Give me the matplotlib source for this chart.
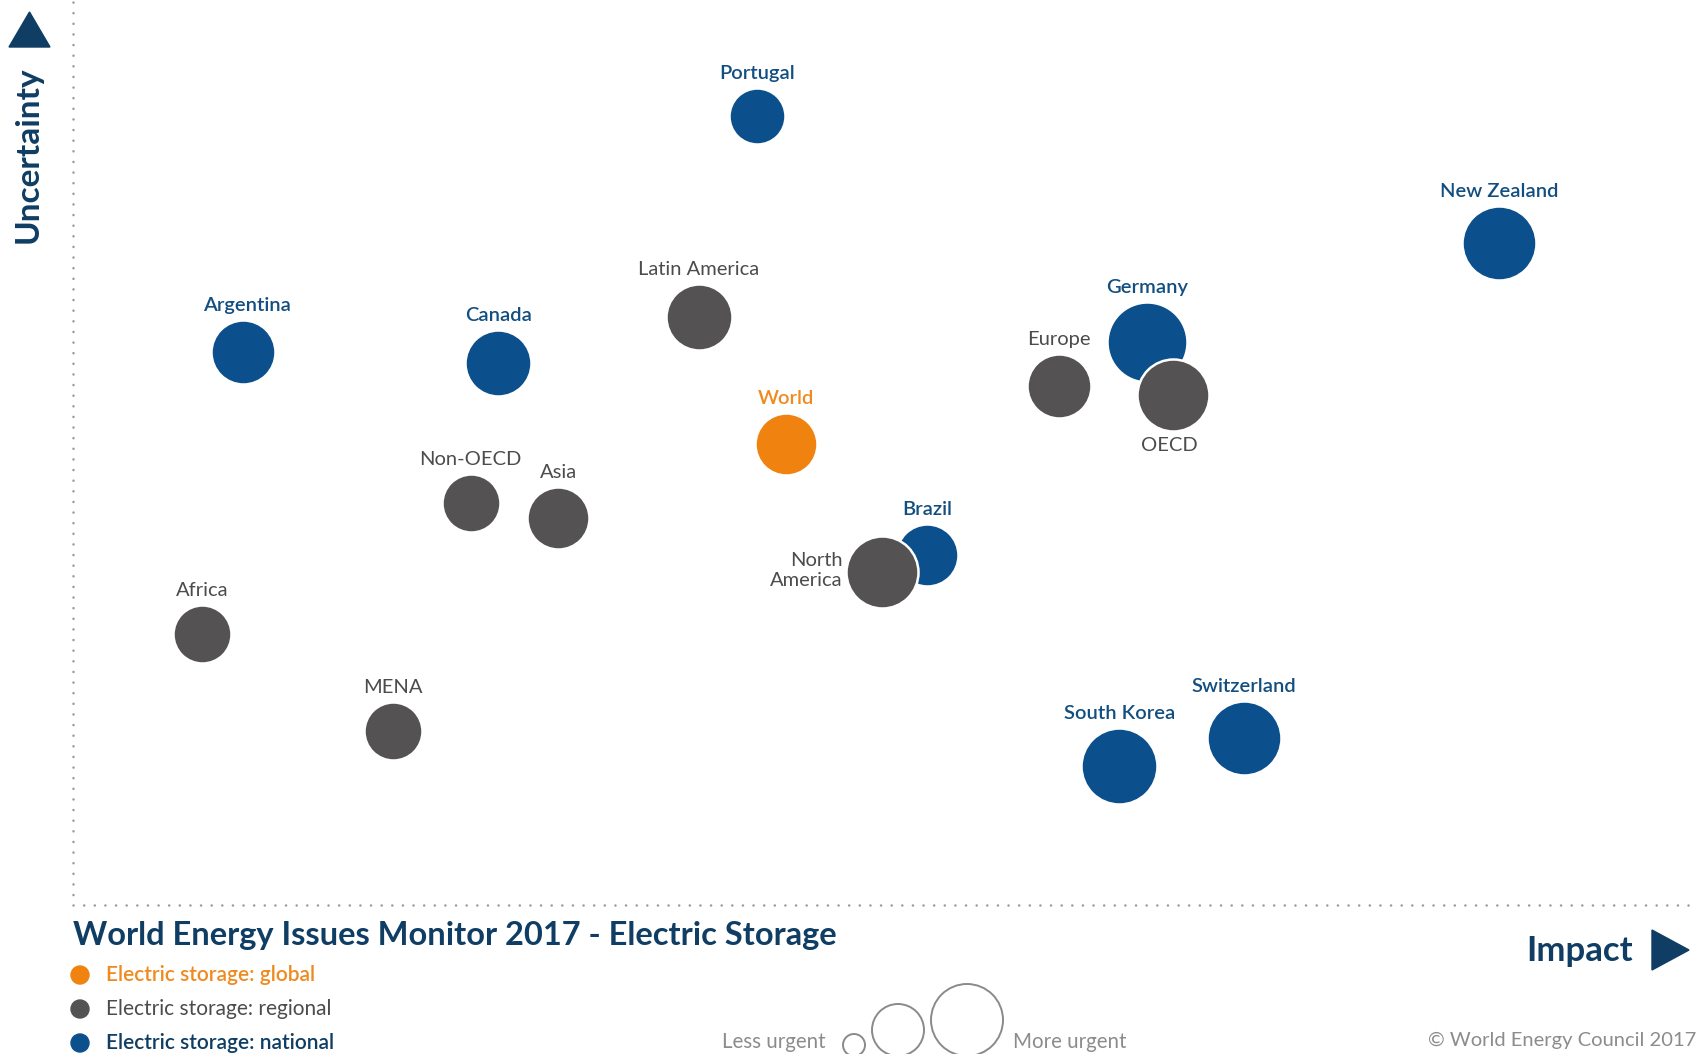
import matplotlib
matplotlib.use("Agg")
import matplotlib.pyplot as plt
from matplotlib.patches import Circle, Polygon
from matplotlib.lines import Line2D

plt.rcParams['font.family'] = ['Lato', 'DejaVu Sans']

# data (impact / uncertainty on a 0-100 scale, urgency = bubble radius)
names = ["Portugal", "New Zealand", "Latin America", "Argentina", "Canada",
         "Germany", "OECD", "Europe", "World", "Non-OECD", "Asia",
         "Brazil", "North America", "Africa", "MENA", "South Korea", "Switzerland"]
impact = [42.3, 88.2, 38.7, 10.5, 26.3, 66.4, 68.0, 61.0, 44.1, 24.6, 30.0,
          52.8, 50.0, 8.0, 19.8, 64.7, 72.4]
uncertainty = [87.2, 73.1, 65.0, 61.1, 59.9, 62.2, 56.4, 57.3, 50.9, 44.4, 42.8,
               38.7, 36.8, 29.9, 19.2, 15.4, 18.5]
urgency = [28, 37, 33, 32, 33, 40, 36, 32, 31, 29, 31, 31, 36, 29, 29, 38, 37]
level = ["national", "national", "regional", "national", "national",
         "national", "regional", "regional", "global", "regional", "regional",
         "national", "regional", "regional", "regional", "national", "national"]

legend_labels = ["Electric storage: global", "Electric storage: regional",
                 "Electric storage: national"]
legend_levels = ["global", "regional", "national"]
size_legend = [11, 26, 36]

colors = {"global": "#f0830f", "regional": "#545253", "national": "#0b4f8c"}
text_colors = {"global": "#ef8a1f", "regional": "#4d4c4c", "national": "#124e80"}
navy = "#0f3d63"
dotgrey = "#9a9a9a"

W, H, DPI = 1704, 1054, 100
fig = plt.figure(figsize=(W / DPI, H / DPI), dpi=DPI)

# decoration layer in pixel coordinates
deco = fig.add_axes([0, 0, 1, 1])
deco.set_xlim(0, W)
deco.set_ylim(H, 0)
deco.axis("off")

# plot area
x0, x1, ytop, ybot = 73, 1690, 0, 905
ax = fig.add_axes([x0 / W, (H - ybot) / H, (x1 - x0) / W, (ybot - ytop) / H])
ax.set_xlim(0, 100)
ax.set_ylim(0, 100)
ax.axis("off")
ax.patch.set_alpha(0)

# dotted axes
dots = dict(color=dotgrey, lw=1.8, linestyle=(0, (0.05, 4.2)), dash_capstyle="round")
deco.add_line(Line2D([x0, x0], [2, ybot], **dots))
deco.add_line(Line2D([x0, x1], [ybot, ybot], **dots))

# arrows
deco.add_patch(Polygon([[9, 47], [50, 47], [29.5, 12]], closed=True, color=navy))
deco.add_patch(Polygon([[1652, 930], [1652, 970], [1689, 950]], closed=True, color=navy))
deco.text(28, 155, "Uncertainty", rotation=90, ha="center", va="center",
          fontsize=24, fontweight="bold", color=navy)
deco.text(1633, 951, "Impact", ha="right", va="center",
          fontsize=25, fontweight="bold", color=navy)

# bubbles
px2pt = 72 / DPI
lab_fs = 14.5
for i, name in enumerate(names):
    r = urgency[i]
    ax.scatter(impact[i], uncertainty[i], s=(2 * r * px2pt) ** 2,
               color=colors[level[i]], edgecolors="white", linewidths=1.8,
               zorder=2 + i)
    tc = text_colors[level[i]]
    if name == "North America":
        ax.annotate("North\nAmerica", (impact[i], uncertainty[i]),
                    xytext=(-(r + 3) * px2pt, 1), textcoords="offset points",
                    ha="right", va="center", fontsize=lab_fs, color=tc,
                    linespacing=1.2, zorder=40)
    elif name == "OECD":
        ax.annotate(name, (impact[i], uncertainty[i]),
                    xytext=(-2, -(r + 6) * px2pt), textcoords="offset points",
                    ha="center", va="top", fontsize=lab_fs, color=tc, zorder=40)
    else:
        dx = 3 if name == "Argentina" else 0
        ax.annotate(name, (impact[i], uncertainty[i]),
                    xytext=(dx, (r + 6) * px2pt), textcoords="offset points",
                    ha="center", va="bottom", fontsize=lab_fs, color=tc,
                    fontweight="semibold" if level[i] != "regional" else "normal",
                    zorder=40)

# title
deco.text(73, 935, "World Energy Issues Monitor 2017 - Electric Storage",
          ha="left", va="center", fontsize=23.5, fontweight="bold", color=navy)

# colour legend
for j, lab in enumerate(legend_labels):
    yy = 975 + j * 34
    deco.add_patch(Circle((80, yy), 9, color=colors[legend_levels[j]]))
    deco.text(106, yy, lab, ha="left", va="center", fontsize=15,
              color=text_colors[legend_levels[j]] if legend_levels[j] != "national" else navy,
              fontweight="semibold" if legend_levels[j] != "regional" else "normal")

# size legend
deco.text(826, 1042, "Less urgent", ha="right", va="center", fontsize=14.8, color="#8c8c8c")
deco.text(1013, 1042, "More urgent", ha="left", va="center", fontsize=14.8, color="#8c8c8c")
cx = [854, 898, 967]
for k, rr in enumerate(size_legend):
    deco.add_patch(Circle((cx[k], 1056 - rr), rr, fill=False, ec="#8a8a8a", lw=1.4))

deco.text(1696, 1040, "\u00a9 World Energy Council 2017", ha="right", va="center",
          fontsize=14.5, color="#8c8c8c")

fig.savefig("out.png", dpi=DPI)
